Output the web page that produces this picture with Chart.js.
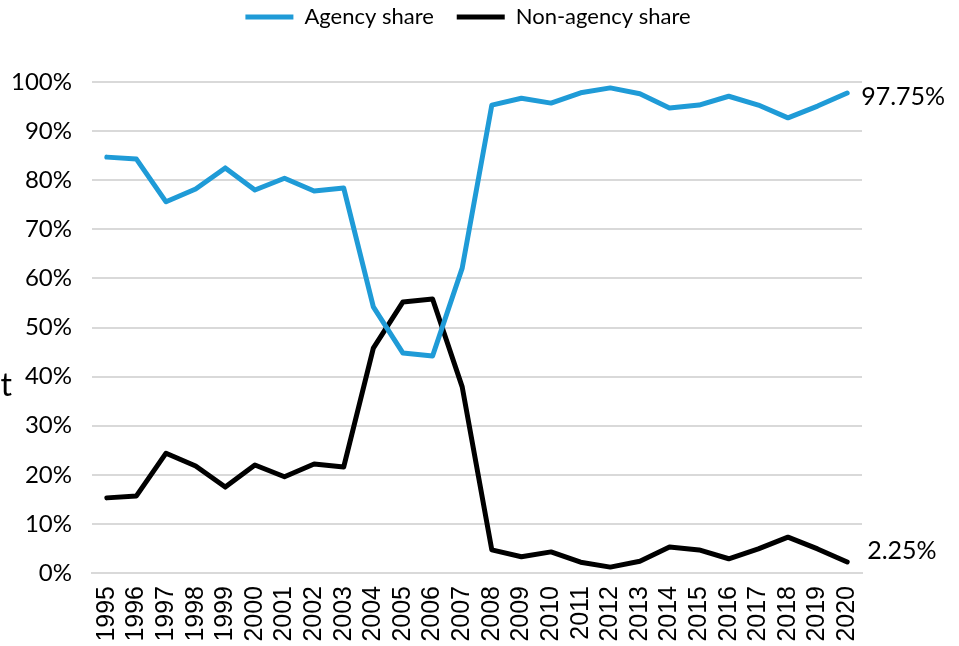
<!DOCTYPE html>
<html>
<head>
<meta charset="utf-8">
<script src="https://cdn.jsdelivr.net/npm/chart.js@4"></script>
<style>
  html, body { margin: 0; padding: 0; background: #fff; }
  #wrap { width: 959px; height: 646px; }
</style>
</head>
<body>
<div id="wrap"><canvas id="myChart" width="959" height="646"></canvas></div>
<script>
var years = ['1995','1996','1997','1998','1999','2000','2001','2002','2003','2004','2005','2006','2007',
             '2008','2009','2010','2011','2012','2013','2014','2015','2016','2017','2018','2019','2020'];
var agencyShare = [84.7, 84.3, 75.6, 78.2, 82.5, 78.0, 80.4, 77.8, 78.4, 54.2, 44.8, 44.2, 62.1,
                   95.3, 96.7, 95.7, 97.8, 98.8, 97.6, 94.7, 95.3, 97.1, 95.3, 92.7, 95.1, 97.75];
var nonAgencyShare = [15.3, 15.7, 24.4, 21.8, 17.5, 22.0, 19.6, 22.2, 21.6, 45.8, 55.2, 55.8, 37.9,
                      4.7, 3.3, 4.3, 2.2, 1.2, 2.4, 5.3, 4.7, 2.9, 4.9, 7.3, 4.9, 2.25];
var yTicks = [0, 10, 20, 30, 40, 50, 60, 70, 80, 90, 100];

var blue = '#1f9bd7';
var black = '#000000';
var latoFont = 'Lato';

// push the plot down below the legend
var legendGap = {
    id: 'legendGap',
    beforeInit: function (chart) {
        var origFit = chart.legend.fit;
        chart.legend.fit = function () {
            origFit.bind(chart.legend)();
            this.height += 44;
        };
    }
};

// end-of-line value labels and the clipped axis title on the left
var extraText = {
    id: 'extraText',
    afterDatasetsDraw: function (chart) {
        var c = chart.ctx;
        var xs = chart.scales.x, ys = chart.scales.y;
        var last = years.length - 1;
        var x = xs.getPixelForValue(last);
        c.save();
        c.fillStyle = '#000';
        c.font = '25px ' + latoFont;
        c.textAlign = 'left';
        c.textBaseline = 'middle';
        c.fillText(agencyShare[last].toFixed(2) + '%', x + 14, ys.getPixelForValue(agencyShare[last]) + 4);
        c.fillText(nonAgencyShare[last].toFixed(2) + '%', x + 20, ys.getPixelForValue(nonAgencyShare[last]) - 11);
        c.font = '32px ' + latoFont;
        c.textAlign = 'right';
        c.textBaseline = 'alphabetic';
        c.fillText('Percent', 12, 396);
        c.restore();
    }
};

var ctx = document.getElementById('myChart').getContext('2d');
var myChart = new Chart(ctx, {
    type: 'line',
    data: {
        labels: years,
        datasets: [{
            label: 'Agency share',
            data: agencyShare,
            borderColor: blue,
            backgroundColor: blue,
            borderWidth: 5,
            borderCapStyle: 'round',
            borderJoinStyle: 'round',
            pointRadius: 0,
            tension: 0
        }, {
            label: 'Non-agency share',
            data: nonAgencyShare,
            borderColor: black,
            backgroundColor: black,
            borderWidth: 5,
            borderCapStyle: 'round',
            borderJoinStyle: 'round',
            pointRadius: 0,
            tension: 0
        }]
    },
    options: {
        responsive: false,
        animation: false,
        layout: { padding: { top: 0, right: 23, bottom: 0, left: 0 } },
        plugins: {
            legend: {
                display: true,
                position: 'top',
                labels: {
                    color: '#000',
                    font: { family: latoFont, size: 22 },
                    usePointStyle: true,
                    pointStyle: 'line',
                    pointStyleWidth: 48,
                    padding: 6,
                    generateLabels: function (chart) {
                        var items = Chart.defaults.plugins.legend.labels.generateLabels(chart);
                        items[0].text = items[0].text + '   ';
                        return items;
                    }
                }
            },
            tooltip: { enabled: false }
        },
        scales: {
            x: {
                type: 'category',
                offset: true,
                grid: { display: false, drawTicks: false },
                border: { display: true, color: '#d9d9d9', width: 2 },
                ticks: {
                    color: '#000',
                    font: { family: 'Liberation Sans', size: 25 },
                    minRotation: 90,
                    maxRotation: 90,
                    autoSkip: false,
                    padding: 13
                },
                afterFit: function (scale) { scale.height = 73; }
            },
            y: {
                min: 0,
                max: 100,
                afterBuildTicks: function (scale) {
                    scale.ticks = yTicks.map(function (v) { return { value: v }; });
                },
                grid: { color: '#d9d9d9', lineWidth: 2, drawTicks: false },
                border: { display: false },
                ticks: {
                    color: '#000',
                    font: { family: latoFont, size: 24 },
                    padding: 20,
                    callback: function (v) { return v + '%'; }
                },
                afterFit: function (scale) { scale.width = 92; }
            },
            yRight: {
                position: 'right',
                min: 0,
                max: 100,
                display: true,
                grid: { display: false },
                border: { display: false },
                ticks: { display: false },
                afterFit: function (scale) { scale.width = 74; }
            }
        }
    },
    plugins: [legendGap, extraText]
});
</script>
</body>
</html>
